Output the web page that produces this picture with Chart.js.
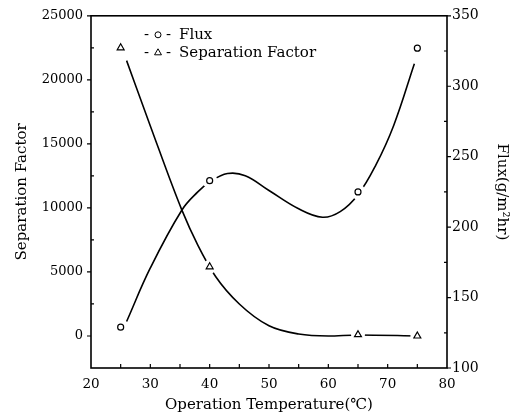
<!DOCTYPE html>
<html>
<head>
<meta charset="utf-8">
<title>Flux and Separation Factor vs Operation Temperature</title>
<script src="https://cdn.jsdelivr.net/npm/chart.js@4.4.1/dist/chart.umd.min.js"></script>
<style>
  html, body { margin: 0; padding: 0; background: #fff; }
  #wrap { width: 520px; height: 420px; }
</style>
</head>
<body>
<div id="wrap"><canvas id="fluxChart"></canvas></div>
<script>
// measured points: operation temperature (°C)
const temperatures = [25, 40, 65, 75];
// flux, g/m2hr (right axis)
const fluxValues = [129, 233, 225, 327];
// separation factor (left axis)
const separationFactors = [22500, 5400, 100, 0];

// fitted curves as drawn in the figure
const fluxCurveTemps = [26, 30, 35.3, 38, 40, 43, 46, 50, 55, 59, 62, 65, 68, 71, 74.5];
const fluxCurveValues = [133, 171, 212, 225, 232, 238, 236.5, 226, 213, 207, 211, 223, 244, 272, 316];
const sepCurveTemps = [26, 30, 35.3, 38, 41, 45, 50, 55, 60, 65, 75];
const sepCurveValues = [21500, 16400, 9850, 7100, 4650, 2500, 800, 150, 0, 80, 0];

// labelled ticks
const xTicks = [20, 30, 40, 50, 60, 70, 80];
const sepTicks = [0, 5000, 10000, 15000, 20000, 25000];
const fluxTicks = [100, 150, 200, 250, 300, 350];

const legendLabels = ['Flux', 'Separation Factor'];

const titleFont = { family: 'DejaVu Serif', size: 15 };

function toPoints(xs, ys) {
    return xs.map((x, i) => ({ x: x, y: ys[i] }));
}

// box round the plot plus the small tick marks (majors out, minors in)
const frameAndTicks = {
    id: 'frameAndTicks',
    afterDraw(chart) {
        const { ctx, chartArea: a, scales } = chart;
        ctx.save();
        ctx.strokeStyle = '#000';
        ctx.lineWidth = 1.6;
        ctx.strokeRect(a.left, a.top, a.right - a.left, a.bottom - a.top);

        ctx.lineWidth = 1.2;
        ctx.beginPath();
        scales.x.ticks.forEach(t => {
            if (t.value <= scales.x.min || t.value >= scales.x.max) return;
            const px = scales.x.getPixelForValue(t.value);
            ctx.moveTo(px, a.bottom);
            ctx.lineTo(px, a.bottom - 4);
        });
        scales.ySep.ticks.forEach(t => {
            const py = scales.ySep.getPixelForValue(t.value);
            if (sepTicks.includes(t.value)) {
                ctx.moveTo(a.left, py);
                ctx.lineTo(a.left - 4, py);
            } else if (t.value > scales.ySep.min) {
                ctx.moveTo(a.left, py);
                ctx.lineTo(a.left + 3, py);
            }
        });
        scales.yFlux.ticks.forEach(t => {
            const py = scales.yFlux.getPixelForValue(t.value);
            if (fluxTicks.includes(t.value)) {
                ctx.moveTo(a.right, py);
                ctx.lineTo(a.right + 4, py);
            } else {
                ctx.moveTo(a.right, py);
                ctx.lineTo(a.right - 3, py);
            }
        });
        ctx.stroke();
        ctx.restore();
    }
};

// legend sits inside the plot, "- o - Flux" style
const insideLegend = {
    id: 'insideLegend',
    afterDraw(chart) {
        const { ctx, chartArea: a } = chart;
        const markers = [chart.data.datasets[4], chart.data.datasets[5]];
        ctx.save();
        ctx.font = '15px "DejaVu Serif"';
        ctx.textBaseline = 'middle';
        legendLabels.forEach((label, i) => {
            const y = a.top + 19 + i * 18;
            const x = a.left + 53;
            ctx.fillStyle = '#000';
            ctx.fillText('-', x, y);
            ctx.fillText('-', x + 22, y);
            ctx.fillText(label, x + 35, y);
            ctx.fillStyle = '#fff';
            ctx.strokeStyle = '#000';
            ctx.lineWidth = 1;
            Chart.helpers.drawPoint(ctx, {
                pointStyle: markers[i].pointStyle,
                radius: markers[i].pointRadius,
                borderWidth: 1,
                rotation: 0
            }, x + 14, y);
        });
        ctx.restore();
    }
};

const ctx = document.getElementById('fluxChart').getContext('2d');

new Chart(ctx, {
    type: 'line',
    data: {
        datasets: [{
            label: 'Flux curve',
            data: toPoints(fluxCurveTemps, fluxCurveValues),
            yAxisID: 'yFlux',
            borderColor: '#000',
            borderWidth: 1.6,
            tension: 0.4,
            pointRadius: 0,
            order: 3
        }, {
            label: 'Separation Factor curve',
            data: toPoints(sepCurveTemps, sepCurveValues),
            yAxisID: 'ySep',
            borderColor: '#000',
            borderWidth: 1.6,
            cubicInterpolationMode: 'monotone',
            pointRadius: 0,
            order: 3
        }, {
            // white halo leaves a gap in the curve round each marker
            label: 'Flux gap',
            data: toPoints(temperatures, fluxValues),
            yAxisID: 'yFlux',
            showLine: false,
            pointRadius: 4,
            pointBorderWidth: 7,
            pointBackgroundColor: '#fff',
            pointBorderColor: '#fff',
            order: 1
        }, {
            label: 'Separation Factor gap',
            data: toPoints(temperatures, separationFactors),
            yAxisID: 'ySep',
            showLine: false,
            pointRadius: 4,
            pointBorderWidth: 6,
            pointBackgroundColor: '#fff',
            pointBorderColor: '#fff',
            order: 1
        }, {
            label: 'Flux',
            data: toPoints(temperatures, fluxValues),
            yAxisID: 'yFlux',
            showLine: false,
            pointStyle: 'circle',
            pointRadius: 3,
            pointBorderWidth: 1.2,
            pointBackgroundColor: '#fff',
            pointBorderColor: '#000',
            order: 0
        }, {
            label: 'Separation Factor',
            data: toPoints(temperatures, separationFactors),
            yAxisID: 'ySep',
            showLine: false,
            pointStyle: 'triangle',
            pointRadius: 4,
            pointBorderWidth: 1.2,
            pointBackgroundColor: '#fff',
            pointBorderColor: '#000',
            order: 0
        }]
    },
    options: {
        responsive: true,
        maintainAspectRatio: false,
        animation: false,
        layout: { padding: { top: 15, left: 0, right: 0, bottom: 0 } },
        plugins: {
            legend: { display: false },
            tooltip: { enabled: false }
        },
        scales: {
            x: {
                type: 'linear',
                min: 20,
                max: 80,
                border: { display: false },
                grid: { display: false, drawTicks: false },
                ticks: {
                    stepSize: 5,
                    autoSkip: false,
                    maxRotation: 0,
                    padding: 8,
                    color: '#000',
                    font: { family: 'DejaVu Serif', size: 13.5 },
                    callback: v => xTicks.includes(v) ? v : ''
                },
                title: {
                    display: true,
                    text: 'Operation Temperature(℃)',
                    color: '#000',
                    font: titleFont,
                    padding: { top: 0, bottom: 6 }
                },
                afterFit: s => { s.height = 52; }
            },
            ySep: {
                type: 'linear',
                position: 'left',
                min: -2500,
                max: 25000,
                border: { display: false },
                grid: { display: false, drawTicks: false },
                ticks: {
                    stepSize: 2500,
                    autoSkip: false,
                    padding: 8,
                    color: '#000',
                    font: { family: 'DejaVu Serif', size: 13 },
                    callback: v => sepTicks.includes(v) ? v : ''
                },
                title: {
                    display: true,
                    text: 'Separation Factor',
                    color: '#000',
                    font: titleFont,
                    padding: { top: 13, bottom: 0 }
                },
                afterFit: s => { s.width = 91; }
            },
            yFlux: {
                type: 'linear',
                position: 'right',
                min: 100,
                max: 350,
                border: { display: false },
                grid: { display: false, drawTicks: false },
                ticks: {
                    stepSize: 25,
                    autoSkip: false,
                    padding: 5,
                    color: '#000',
                    font: { family: 'DejaVu Serif', size: 14 },
                    callback: v => fluxTicks.includes(v) ? v : ''
                },
                title: {
                    display: true,
                    text: 'Flux(g/m²hr)',
                    color: '#000',
                    font: titleFont,
                    padding: { top: 9, bottom: 0 }
                },
                afterFit: s => { s.width = 73; }
            }
        }
    },
    plugins: [frameAndTicks, insideLegend]
});
</script>
</body>
</html>
